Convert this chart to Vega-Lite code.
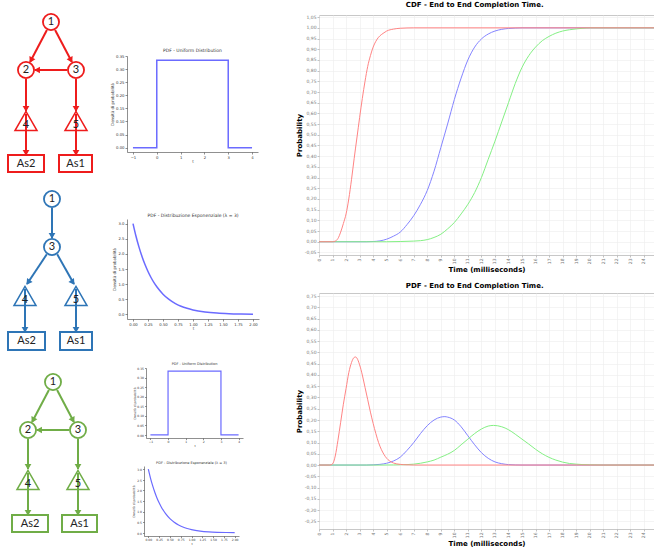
{
  "$schema": "https://vega.github.io/schema/vega-lite/v6.json",
  "padding": 0,
  "background": "white",
  "spacing": 0,
  "datasets": {
    "diag": [
      {"k":"box","g":"A","x":8,"x2":44,"y":155,"y2":172},
      {"k":"box","g":"A","x":59,"x2":92,"y":155,"y2":172},
      {"k":"box","g":"B","x":8,"x2":45,"y":332,"y2":350},
      {"k":"box","g":"B","x":60,"x2":92,"y":332,"y2":350},
      {"k":"box","g":"C","x":12,"x2":48,"y":515,"y2":532},
      {"k":"box","g":"C","x":62,"x2":97,"y":515,"y2":532},
      {"k":"tri","g":"A","x":26,"y":121},
      {"k":"tri","g":"A","x":76,"y":121},
      {"k":"tri","g":"B","x":25,"y":296},
      {"k":"tri","g":"B","x":76,"y":296},
      {"k":"tri","g":"C","x":28,"y":480},
      {"k":"tri","g":"C","x":78,"y":480},
      {"k":"edge","g":"A","x":46.9,"y":30,"x2":30.1,"y2":62},
      {"k":"edge","g":"A","x":55.1,"y":30,"x2":71.9,"y2":62},
      {"k":"edge","g":"A","x":67,"y":70,"x2":35,"y2":70},
      {"k":"edge","g":"A","x":26,"y":79,"x2":26,"y2":111},
      {"k":"edge","g":"A","x":76,"y":79,"x2":76,"y2":111},
      {"k":"edge","g":"A","x":26,"y":114,"x2":26,"y2":155},
      {"k":"edge","g":"A","x":76,"y":114,"x2":76,"y2":155},
      {"k":"edge","g":"B","x":52,"y":208,"x2":52,"y2":238},
      {"k":"edge","g":"B","x":46.8,"y":254.3,"x2":27,"y2":284},
      {"k":"edge","g":"B","x":57.2,"y":254.3,"x2":74,"y2":284},
      {"k":"edge","g":"B","x":25,"y":289,"x2":25,"y2":332},
      {"k":"edge","g":"B","x":76,"y":289,"x2":76,"y2":332},
      {"k":"edge","g":"C","x":48.9,"y":390,"x2":32.1,"y2":422},
      {"k":"edge","g":"C","x":57.1,"y":390,"x2":73.9,"y2":422},
      {"k":"edge","g":"C","x":69,"y":430,"x2":37,"y2":430},
      {"k":"edge","g":"C","x":28,"y":439,"x2":28,"y2":469},
      {"k":"edge","g":"C","x":78,"y":439,"x2":78,"y2":469},
      {"k":"edge","g":"C","x":28,"y":473,"x2":28,"y2":515},
      {"k":"edge","g":"C","x":78,"y":473,"x2":78,"y2":515},
      {"k":"head","g":"A","x":31.5,"y":59.3,"a":207.5},
      {"k":"head","g":"A","x":70.5,"y":59.3,"a":152.5},
      {"k":"head","g":"A","x":38,"y":70,"a":270},
      {"k":"head","g":"A","x":26,"y":108,"a":180},
      {"k":"head","g":"A","x":76,"y":108,"a":180},
      {"k":"head","g":"A","x":26,"y":152,"a":180},
      {"k":"head","g":"A","x":76,"y":152,"a":180},
      {"k":"head","g":"B","x":52,"y":235,"a":180},
      {"k":"head","g":"B","x":28.7,"y":281.6,"a":215.4},
      {"k":"head","g":"B","x":72.3,"y":281.6,"a":144.6},
      {"k":"head","g":"B","x":25,"y":329,"a":180},
      {"k":"head","g":"B","x":76,"y":329,"a":180},
      {"k":"head","g":"C","x":33.5,"y":419.3,"a":207.5},
      {"k":"head","g":"C","x":72.5,"y":419.3,"a":152.5},
      {"k":"head","g":"C","x":40,"y":430,"a":270},
      {"k":"head","g":"C","x":28,"y":466,"a":180},
      {"k":"head","g":"C","x":78,"y":466,"a":180},
      {"k":"head","g":"C","x":28,"y":512,"a":180},
      {"k":"head","g":"C","x":78,"y":512,"a":180},
      {"k":"node","g":"A","x":51,"y":22},
      {"k":"node","g":"A","x":26,"y":70},
      {"k":"node","g":"A","x":76,"y":70},
      {"k":"node","g":"B","x":52,"y":199},
      {"k":"node","g":"B","x":52,"y":247},
      {"k":"node","g":"C","x":53,"y":382},
      {"k":"node","g":"C","x":28,"y":430},
      {"k":"node","g":"C","x":78,"y":430},
      {"k":"label","g":"A","x":51,"y":22,"t":"1"},
      {"k":"label","g":"A","x":26,"y":70,"t":"2"},
      {"k":"label","g":"A","x":76,"y":70,"t":"3"},
      {"k":"label","g":"A","x":26,"y":125,"t":"4"},
      {"k":"label","g":"A","x":76,"y":125,"t":"5"},
      {"k":"label","g":"A","x":26,"y":163.5,"t":"As2"},
      {"k":"label","g":"A","x":75.5,"y":163.5,"t":"As1"},
      {"k":"label","g":"B","x":52,"y":199,"t":"1"},
      {"k":"label","g":"B","x":52,"y":247,"t":"3"},
      {"k":"label","g":"B","x":25,"y":300,"t":"4"},
      {"k":"label","g":"B","x":76,"y":300,"t":"5"},
      {"k":"label","g":"B","x":26.5,"y":341,"t":"As2"},
      {"k":"label","g":"B","x":76,"y":341,"t":"As1"},
      {"k":"label","g":"C","x":53,"y":382,"t":"1"},
      {"k":"label","g":"C","x":28,"y":430,"t":"2"},
      {"k":"label","g":"C","x":78,"y":430,"t":"3"},
      {"k":"label","g":"C","x":28,"y":484,"t":"4"},
      {"k":"label","g":"C","x":78,"y":484,"t":"5"},
      {"k":"label","g":"C","x":30,"y":523.5,"t":"As2"},
      {"k":"label","g":"C","x":79.5,"y":523.5,"t":"As1"}
    ],
    "unif": [
      {"i":0,"t":-1,"p":0},{"i":1,"t":0,"p":0},{"i":2,"t":0,"p":0.3333},
      {"i":3,"t":3,"p":0.3333},{"i":4,"t":3,"p":0},{"i":5,"t":4,"p":0}
    ],
    "expo": [
      {"t":0,"p":3},{"t":0.05,"p":2.582},{"t":0.1,"p":2.222},{"t":0.15,"p":1.913},
      {"t":0.2,"p":1.646},{"t":0.25,"p":1.417},{"t":0.3,"p":1.22},{"t":0.35,"p":1.05},
      {"t":0.4,"p":0.904},{"t":0.5,"p":0.669},{"t":0.6,"p":0.496},{"t":0.7,"p":0.367},
      {"t":0.8,"p":0.272},{"t":0.9,"p":0.202},{"t":1,"p":0.149},{"t":1.2,"p":0.082},
      {"t":1.4,"p":0.045},{"t":1.6,"p":0.025},{"t":1.8,"p":0.014},{"t":2,"p":0.007}
    ],
    "cdf": [
      {"s":"B","t":0,"p":0},{"s":"B","t":3.5,"p":0},{"s":"B","t":4,"p":0.001},{"s":"B","t":4.5,"p":0.004},
      {"s":"B","t":5,"p":0.012},{"s":"B","t":5.5,"p":0.026},{"s":"B","t":6,"p":0.045},{"s":"B","t":6.5,"p":0.08},
      {"s":"B","t":7,"p":0.122},{"s":"B","t":7.5,"p":0.175},{"s":"B","t":8,"p":0.24},{"s":"B","t":8.5,"p":0.33},
      {"s":"B","t":9,"p":0.44},{"s":"B","t":9.5,"p":0.55},{"s":"B","t":10,"p":0.665},{"s":"B","t":10.5,"p":0.765},
      {"s":"B","t":11,"p":0.85},{"s":"B","t":11.5,"p":0.91},{"s":"B","t":12,"p":0.948},{"s":"B","t":12.5,"p":0.971},
      {"s":"B","t":13,"p":0.985},{"s":"B","t":13.5,"p":0.993},{"s":"B","t":14,"p":0.997},{"s":"B","t":14.5,"p":0.999},
      {"s":"B","t":15,"p":1},{"s":"B","t":24.75,"p":1},
      {"s":"C","t":0,"p":0},{"s":"C","t":5,"p":0},{"s":"C","t":6,"p":0.001},{"s":"C","t":7,"p":0.003},
      {"s":"C","t":7.5,"p":0.005},{"s":"C","t":8,"p":0.01},{"s":"C","t":8.5,"p":0.02},{"s":"C","t":9,"p":0.035},
      {"s":"C","t":9.5,"p":0.06},{"s":"C","t":10,"p":0.09},{"s":"C","t":10.5,"p":0.13},{"s":"C","t":11,"p":0.175},
      {"s":"C","t":11.5,"p":0.23},{"s":"C","t":12,"p":0.3},{"s":"C","t":12.5,"p":0.385},{"s":"C","t":13,"p":0.47},
      {"s":"C","t":13.5,"p":0.56},{"s":"C","t":14,"p":0.65},{"s":"C","t":14.5,"p":0.74},{"s":"C","t":15,"p":0.815},
      {"s":"C","t":15.5,"p":0.87},{"s":"C","t":16,"p":0.91},{"s":"C","t":16.5,"p":0.94},{"s":"C","t":17,"p":0.96},
      {"s":"C","t":17.5,"p":0.975},{"s":"C","t":18,"p":0.985},{"s":"C","t":18.5,"p":0.991},{"s":"C","t":19,"p":0.995},
      {"s":"C","t":19.5,"p":0.998},{"s":"C","t":20,"p":1},{"s":"C","t":24.75,"p":1},
      {"s":"A","t":0,"p":0},{"s":"A","t":1,"p":0},{"s":"A","t":1.2,"p":0.003},{"s":"A","t":1.4,"p":0.015},
      {"s":"A","t":1.6,"p":0.045},{"s":"A","t":1.8,"p":0.085},{"s":"A","t":2,"p":0.13},{"s":"A","t":2.2,"p":0.2},
      {"s":"A","t":2.4,"p":0.29},{"s":"A","t":2.6,"p":0.39},{"s":"A","t":2.8,"p":0.485},{"s":"A","t":3,"p":0.58},
      {"s":"A","t":3.2,"p":0.67},{"s":"A","t":3.4,"p":0.75},{"s":"A","t":3.6,"p":0.82},{"s":"A","t":3.8,"p":0.87},
      {"s":"A","t":4,"p":0.91},{"s":"A","t":4.2,"p":0.937},{"s":"A","t":4.4,"p":0.956},{"s":"A","t":4.6,"p":0.968},
      {"s":"A","t":4.8,"p":0.977},{"s":"A","t":5,"p":0.985},{"s":"A","t":5.5,"p":0.994},{"s":"A","t":6,"p":0.998},
      {"s":"A","t":7,"p":1},{"s":"A","t":24.75,"p":1}
    ],
    "pdf": [
      {"s":"B","t":0,"p":0},{"s":"B","t":3.5,"p":0},{"s":"B","t":4,"p":0.001},{"s":"B","t":4.5,"p":0.003},
      {"s":"B","t":5,"p":0.008},{"s":"B","t":5.5,"p":0.018},{"s":"B","t":6,"p":0.035},{"s":"B","t":6.5,"p":0.065},
      {"s":"B","t":7,"p":0.1},{"s":"B","t":7.5,"p":0.14},{"s":"B","t":8,"p":0.175},{"s":"B","t":8.5,"p":0.2},
      {"s":"B","t":9,"p":0.213},{"s":"B","t":9.3,"p":0.215},{"s":"B","t":9.5,"p":0.213},{"s":"B","t":10,"p":0.2},
      {"s":"B","t":10.5,"p":0.17},{"s":"B","t":11,"p":0.13},{"s":"B","t":11.5,"p":0.09},{"s":"B","t":12,"p":0.055},
      {"s":"B","t":12.5,"p":0.03},{"s":"B","t":13,"p":0.014},{"s":"B","t":13.5,"p":0.006},{"s":"B","t":14,"p":0.002},
      {"s":"B","t":14.5,"p":0.0005},{"s":"B","t":15,"p":0},{"s":"B","t":24.75,"p":0},
      {"s":"C","t":0,"p":0},{"s":"C","t":4.5,"p":0},{"s":"C","t":5.5,"p":0.0005},{"s":"C","t":6.5,"p":0.002},
      {"s":"C","t":7,"p":0.004},{"s":"C","t":7.5,"p":0.008},{"s":"C","t":8,"p":0.014},{"s":"C","t":8.5,"p":0.022},
      {"s":"C","t":9,"p":0.035},{"s":"C","t":9.5,"p":0.048},{"s":"C","t":10,"p":0.065},{"s":"C","t":10.5,"p":0.09},
      {"s":"C","t":11,"p":0.115},{"s":"C","t":11.5,"p":0.14},{"s":"C","t":12,"p":0.16},{"s":"C","t":12.5,"p":0.173},
      {"s":"C","t":12.9,"p":0.176},{"s":"C","t":13.5,"p":0.17},{"s":"C","t":14,"p":0.157},{"s":"C","t":14.5,"p":0.137},
      {"s":"C","t":15,"p":0.115},{"s":"C","t":15.5,"p":0.093},{"s":"C","t":16,"p":0.07},{"s":"C","t":16.5,"p":0.05},
      {"s":"C","t":17,"p":0.034},{"s":"C","t":17.5,"p":0.022},{"s":"C","t":18,"p":0.013},{"s":"C","t":18.5,"p":0.007},
      {"s":"C","t":19,"p":0.004},{"s":"C","t":19.5,"p":0.002},{"s":"C","t":20,"p":0.001},{"s":"C","t":21,"p":0},
      {"s":"C","t":24.75,"p":0},
      {"s":"A","t":0,"p":0},{"s":"A","t":0.8,"p":0},{"s":"A","t":1,"p":0.005},{"s":"A","t":1.2,"p":0.04},
      {"s":"A","t":1.4,"p":0.11},{"s":"A","t":1.6,"p":0.19},{"s":"A","t":1.8,"p":0.27},{"s":"A","t":2,"p":0.34},
      {"s":"A","t":2.2,"p":0.41},{"s":"A","t":2.4,"p":0.455},{"s":"A","t":2.6,"p":0.478},{"s":"A","t":2.7,"p":0.48},
      {"s":"A","t":2.8,"p":0.475},{"s":"A","t":3,"p":0.445},{"s":"A","t":3.2,"p":0.4},{"s":"A","t":3.4,"p":0.345},
      {"s":"A","t":3.6,"p":0.29},{"s":"A","t":3.8,"p":0.235},{"s":"A","t":4,"p":0.185},{"s":"A","t":4.2,"p":0.14},
      {"s":"A","t":4.4,"p":0.1},{"s":"A","t":4.6,"p":0.07},{"s":"A","t":4.8,"p":0.047},{"s":"A","t":5,"p":0.03},
      {"s":"A","t":5.2,"p":0.019},{"s":"A","t":5.5,"p":0.009},{"s":"A","t":6,"p":0.003},{"s":"A","t":6.5,"p":0.001},
      {"s":"A","t":7,"p":0},{"s":"A","t":24.75,"p":0}
    ]
  },
  "hconcat": [
    {
      "width": 110,
      "height": 533,
      "data": {"name": "diag"},
      "encoding": {
        "x": {"field": "x", "type": "quantitative", "scale": {"domain": [0, 110], "nice": false, "zero": false}, "axis": null},
        "y": {"field": "y", "type": "quantitative", "scale": {"domain": [15, 548], "nice": false, "zero": false, "reverse": true}, "axis": null}
      },
      "layer": [
        {
          "transform": [{"filter": "datum.k == 'box'"}],
          "mark": {"type": "rect", "fill": "white", "strokeWidth": 2},
          "encoding": {
            "x2": {"field": "x2"},
            "y2": {"field": "y2"},
            "stroke": {"field": "g", "type": "nominal", "scale": {"domain": ["A", "B", "C"], "range": ["#ee1c1c", "#2e75b6", "#70ad47"]}, "legend": null}
          }
        },
        {
          "transform": [{"filter": "datum.k == 'tri'"}],
          "mark": {"type": "point", "shape": "triangle-up", "filled": true, "fill": "white", "size": 484, "strokeWidth": 1.5, "opacity": 1},
          "encoding": {
            "stroke": {"field": "g", "type": "nominal", "scale": {"domain": ["A", "B", "C"], "range": ["#ee1c1c", "#2e75b6", "#70ad47"]}, "legend": null}
          }
        },
        {
          "transform": [{"filter": "datum.k == 'edge'"}],
          "mark": {"type": "rule", "strokeWidth": 2},
          "encoding": {
            "x2": {"field": "x2"},
            "y2": {"field": "y2"},
            "color": {"field": "g", "type": "nominal", "scale": {"domain": ["A", "B", "C"], "range": ["#ee1c1c", "#2e75b6", "#70ad47"]}, "legend": null}
          }
        },
        {
          "transform": [{"filter": "datum.k == 'node'"}],
          "mark": {"type": "point", "shape": "circle", "filled": true, "fill": "white", "size": 260, "strokeWidth": 1.8, "opacity": 1},
          "encoding": {
            "stroke": {"field": "g", "type": "nominal", "scale": {"domain": ["A", "B", "C"], "range": ["#ee1c1c", "#2e75b6", "#70ad47"]}, "legend": null}
          }
        },
        {
          "transform": [{"filter": "datum.k == 'head'"}],
          "mark": {"type": "point", "shape": "triangle", "filled": true, "size": 45, "opacity": 1},
          "encoding": {
            "angle": {"field": "a", "type": "quantitative", "scale": null},
            "color": {"field": "g", "type": "nominal", "scale": {"domain": ["A", "B", "C"], "range": ["#ee1c1c", "#2e75b6", "#70ad47"]}, "legend": null}
          }
        },
        {
          "transform": [{"filter": "datum.k == 'label'"}],
          "mark": {"type": "text", "font": "Lato", "fontSize": 11, "color": "#222222", "baseline": "middle", "align": "center"},
          "encoding": {
            "text": {"field": "t", "type": "nominal"}
          }
        }
      ]
    },
    {
      "spacing": 0,
      "vconcat": [
        {"width": 1, "height": 32, "data": {"values": [{}]}, "mark": {"type": "text", "text": ""}},
        {
          "width": 131,
          "height": 96,
          "title": "PDF - Uniform Distribution",
          "data": {"name": "unif"},
          "mark": {"type": "line", "color": "#6b6bff", "strokeWidth": 1.5},
          "encoding": {
            "x": {"field": "t", "type": "quantitative", "scale": {"domain": [-1.25, 4.25], "nice": false, "zero": false}, "axis": {"values": [-1, 0, 1, 2, 3, 4], "format": "d", "title": "t", "labelFlush": false, "labelOverlap": false}},
            "y": {"field": "p", "type": "quantitative", "scale": {"domain": [-0.0167, 0.35], "nice": false, "zero": false}, "axis": {"values": [0, 0.05, 0.1, 0.15, 0.2, 0.25, 0.3, 0.35], "format": ".2f", "title": "Densità di probabilità", "labelFlush": false, "labelOverlap": false}},
            "order": {"field": "i", "type": "quantitative"}
          }
        },
        {"width": 1, "height": 48, "data": {"values": [{}]}, "mark": {"type": "text", "text": ""}},
        {
          "width": 132,
          "height": 100,
          "title": "PDF - Distribuzione Esponenziale (λ = 3)",
          "data": {"name": "expo"},
          "mark": {"type": "line", "color": "#6b6bff", "strokeWidth": 1.5, "interpolate": "monotone"},
          "encoding": {
            "x": {"field": "t", "type": "quantitative", "scale": {"domain": [-0.1, 2.1], "nice": false, "zero": false}, "axis": {"values": [0, 0.25, 0.5, 0.75, 1, 1.25, 1.5, 1.75, 2], "format": ".2f", "title": "t", "labelFlush": false, "labelOverlap": false}},
            "y": {"field": "p", "type": "quantitative", "scale": {"domain": [-0.15, 3.15], "nice": false, "zero": false}, "axis": {"values": [0, 0.5, 1, 1.5, 2, 2.5, 3], "format": ".1f", "title": "Densità di probabilità", "labelFlush": false, "labelOverlap": false}}
          }
        },
        {"width": 1, "height": 31, "data": {"values": [{}]}, "mark": {"type": "text", "text": ""}},
        {
          "spacing": 0,
          "hconcat": [
            {"width": 5, "height": 1, "data": {"values": [{}]}, "mark": {"type": "text", "text": ""}},
            {
              "width": 97,
              "height": 70,
              "title": {"text": "PDF - Uniform Distribution", "fontSize": 3.5, "offset": 1.5},
              "data": {"name": "unif"},
              "mark": {"type": "line", "color": "#6b6bff", "strokeWidth": 1.2},
              "encoding": {
                "x": {"field": "t", "type": "quantitative", "scale": {"domain": [-1.25, 4.25], "nice": false, "zero": false}, "axis": {"values": [-1, 0, 1, 2, 3, 4], "format": "d", "title": "t", "labelFontSize": 3, "titleFontSize": 3, "tickSize": 1.5, "labelFlush": false, "labelOverlap": false}},
                "y": {"field": "p", "type": "quantitative", "scale": {"domain": [-0.0167, 0.35], "nice": false, "zero": false}, "axis": {"values": [0, 0.05, 0.1, 0.15, 0.2, 0.25, 0.3, 0.35], "format": ".2f", "title": "Densità di probabilità", "labelFontSize": 3, "titleFontSize": 3, "tickSize": 1.5, "labelFlush": false, "labelOverlap": false}},
                "order": {"field": "i", "type": "quantitative"}
              }
            }
          ]
        },
        {"width": 1, "height": 7, "data": {"values": [{}]}, "mark": {"type": "text", "text": ""}},
        {
          "spacing": 0,
          "hconcat": [
            {"width": 5, "height": 1, "data": {"values": [{}]}, "mark": {"type": "text", "text": ""}},
            {
              "width": 95,
              "height": 70,
              "title": {"text": "PDF - Distribuzione Esponenziale (λ = 3)", "fontSize": 3.5, "offset": 1.5},
              "data": {"name": "expo"},
              "mark": {"type": "line", "color": "#6b6bff", "strokeWidth": 1.2, "interpolate": "monotone"},
              "encoding": {
                "x": {"field": "t", "type": "quantitative", "scale": {"domain": [-0.1, 2.1], "nice": false, "zero": false}, "axis": {"values": [0, 0.25, 0.5, 0.75, 1, 1.25, 1.5, 1.75, 2], "format": ".2f", "title": "t", "labelFontSize": 3, "titleFontSize": 3, "tickSize": 1.5, "labelFlush": false, "labelOverlap": false}},
                "y": {"field": "p", "type": "quantitative", "scale": {"domain": [-0.15, 3.15], "nice": false, "zero": false}, "axis": {"values": [0, 0.5, 1, 1.5, 2, 2.5, 3], "format": ".1f", "title": "Densità di probabilità", "labelFontSize": 3, "titleFontSize": 3, "tickSize": 1.5, "labelFlush": false, "labelOverlap": false}}
              }
            }
          ]
        }
      ]
    },
    {"width": 35, "height": 1, "data": {"values": [{}]}, "mark": {"type": "text", "text": ""}},
    {
      "spacing": 7,
      "vconcat": [
        {
          "width": 335,
          "height": 240,
          "view": {"stroke": "#c8c8c8"},
          "title": {"text": "CDF - End to End Completion Time.", "font": "DejaVu Sans", "fontSize": 7, "fontWeight": "bold", "color": "#000000", "anchor": "middle", "frame": "bounds", "offset": 6},
          "data": {"name": "cdf"},
          "encoding": {
            "x": {"field": "t", "type": "quantitative", "scale": {"domain": [0, 24.75], "nice": false, "zero": false}, "axis": {"values": [0,1,2,3,4,5,6,7,8,9,10,11,12,13,14,15,16,17,18,19,20,21,22,23,24], "format": "d", "labelAngle": -90, "labelFontSize": 4.5, "labelColor": "#777777", "grid": true, "gridColor": "#ececec", "gridWidth": 0.6, "domain": false, "tickColor": "#999999", "tickSize": 2, "labelFlush": false, "labelOverlap": false, "title": "Time (milliseconds)", "titleFont": "DejaVu Sans", "titleFontSize": 7, "titleFontWeight": "bold", "titleColor": "#000000", "titlePadding": 2}},
            "y": {"field": "p", "type": "quantitative", "scale": {"domain": [-0.062, 1.06], "nice": false, "zero": false}, "axis": {"values": [-0.05,0,0.05,0.1,0.15,0.2,0.25,0.3,0.35,0.4,0.45,0.5,0.55,0.6,0.65,0.7,0.75,0.8,0.85,0.9,0.95,1,1.05], "labelExpr": "replace(replace(format(datum.value, '.2f'), '.', ','), '−', '-')", "labelFontSize": 4.5, "labelColor": "#777777", "grid": true, "gridColor": "#ececec", "gridWidth": 0.6, "domain": false, "tickColor": "#999999", "tickSize": 2, "labelFlush": false, "labelOverlap": false, "title": "Probability", "titleFont": "DejaVu Sans", "titleFontSize": 7, "titleFontWeight": "bold", "titleColor": "#000000", "titlePadding": 2}}
          },
          "layer": [
            {"transform": [{"filter": "datum.s == 'B'"}], "mark": {"type": "line", "color": "#8484ff", "strokeWidth": 1, "interpolate": "monotone", "clip": true}},
            {"transform": [{"filter": "datum.s == 'C'"}], "mark": {"type": "line", "color": "#84f084", "strokeWidth": 1, "interpolate": "monotone", "clip": true}},
            {"transform": [{"filter": "datum.s == 'A'"}], "mark": {"type": "line", "color": "#ff8484", "strokeWidth": 1, "interpolate": "monotone", "clip": true}}
          ]
        },
        {
          "width": 335,
          "height": 236,
          "view": {"stroke": "#c8c8c8"},
          "title": {"text": "PDF - End to End Completion Time.", "font": "DejaVu Sans", "fontSize": 7, "fontWeight": "bold", "color": "#000000", "anchor": "middle", "frame": "bounds", "offset": 4},
          "data": {"name": "pdf"},
          "encoding": {
            "x": {"field": "t", "type": "quantitative", "scale": {"domain": [0, 24.75], "nice": false, "zero": false}, "axis": {"values": [0,1,2,3,4,5,6,7,8,9,10,11,12,13,14,15,16,17,18,19,20,21,22,23,24], "format": "d", "labelAngle": -90, "labelFontSize": 4.5, "labelColor": "#777777", "grid": true, "gridColor": "#ececec", "gridWidth": 0.6, "domain": false, "tickColor": "#999999", "tickSize": 2, "labelFlush": false, "labelOverlap": false, "title": "Time (milliseconds)", "titleFont": "DejaVu Sans", "titleFontSize": 7, "titleFontWeight": "bold", "titleColor": "#000000", "titlePadding": 2}},
            "y": {"field": "p", "type": "quantitative", "scale": {"domain": [-0.284, 0.764], "nice": false, "zero": false}, "axis": {"values": [-0.25,-0.2,-0.15,-0.1,-0.05,0,0.05,0.1,0.15,0.2,0.25,0.3,0.35,0.4,0.45,0.5,0.55,0.6,0.65,0.7,0.75], "labelExpr": "replace(replace(format(datum.value, '.2f'), '.', ','), '−', '-')", "labelFontSize": 4.5, "labelColor": "#777777", "grid": true, "gridColor": "#ececec", "gridWidth": 0.6, "domain": false, "tickColor": "#999999", "tickSize": 2, "labelFlush": false, "labelOverlap": false, "title": "Probability", "titleFont": "DejaVu Sans", "titleFontSize": 7, "titleFontWeight": "bold", "titleColor": "#000000", "titlePadding": 2}}
          },
          "layer": [
            {"transform": [{"filter": "datum.s == 'B'"}], "mark": {"type": "line", "color": "#8484ff", "strokeWidth": 1, "interpolate": "monotone", "clip": true}},
            {"transform": [{"filter": "datum.s == 'C'"}], "mark": {"type": "line", "color": "#84f084", "strokeWidth": 1, "interpolate": "monotone", "clip": true}},
            {"transform": [{"filter": "datum.s == 'A'"}], "mark": {"type": "line", "color": "#ff8484", "strokeWidth": 1, "interpolate": "monotone", "clip": true}}
          ]
        }
      ]
    }
  ],
  "config": {
    "view": {"stroke": null},
    "axis": {"labelFont": "DejaVu Sans", "titleFont": "DejaVu Sans", "labelFontSize": 3.8, "titleFontSize": 4, "titleFontWeight": "normal", "labelColor": "#333333", "titleColor": "#333333", "tickSize": 2, "tickColor": "#444444", "domainColor": "#444444", "domainWidth": 0.6, "tickWidth": 0.6, "labelPadding": 1, "titlePadding": 1, "grid": false},
    "title": {"font": "DejaVu Sans", "fontSize": 4.5, "fontWeight": "normal", "color": "#333333", "offset": 2}
  }
}
